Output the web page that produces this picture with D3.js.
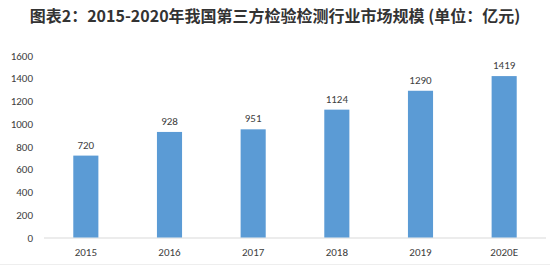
<!DOCTYPE html>
<html><head><meta charset="utf-8">
<script src="https://cdn.jsdelivr.net/npm/d3@7/dist/d3.min.js"></script>
<style>
html,body{margin:0;padding:0;background:#fff;}
svg{display:block;}
</style></head>
<body>
<svg id="c" width="550" height="271"></svg>
<script>
const categories = ["2015","2016","2017","2018","2019","2020E"];
const values = [720, 928, 951, 1124, 1290, 1419];
const yTicks = [0,200,400,600,800,1000,1200,1400,1600];
const titleText = "图表2：2015-2020年我国第三方检验检测行业市场规模 (单位：亿元)";

const svg = d3.select("#c");
const font = "'Noto Sans CJK SC','Microsoft YaHei',sans-serif";
const numFont = "Calibri,Carlito,'Liberation Sans',sans-serif";

svg.append("text")
  .attr("x", 275).attr("y", 22)
  .attr("text-anchor","middle")
  .attr("font-family", font)
  .attr("font-weight","bold")
  .attr("font-size", 16)
  .attr("fill","#333")
  .text(titleText);

const x = d3.scaleBand().domain(categories).range([44, 546]).paddingInner(0.7).paddingOuter(0.35);
const y = d3.scaleLinear().domain([0,1600]).range([237.5, 55.5]);

// axis baseline
svg.append("line")
  .attr("x1", 44).attr("x2", 546)
  .attr("y1", y(0)+0.5).attr("y2", y(0)+0.5)
  .attr("stroke","#d9d9d9").attr("stroke-width",1);

// y labels
const yAxis = d3.axisLeft(y).tickValues(yTicks).tickFormat(d3.format("d")).tickSize(0).tickPadding(0);
const gy = svg.append("g").attr("transform","translate(33,0)").call(yAxis);
gy.select(".domain").remove();
gy.selectAll("text").attr("font-family",numFont).attr("font-size",11).attr("fill","#404040");

// x labels
const xAxis = d3.axisBottom(x).tickSize(0).tickPadding(0);
const gx = svg.append("g").attr("transform","translate(0,248)").call(xAxis);
gx.select(".domain").remove();
gx.selectAll("text").attr("font-family",numFont).attr("font-size",11).attr("fill","#404040");

// bars
svg.selectAll("rect.bar").data(values).enter().append("rect")
  .attr("class","bar")
  .attr("x",(d,i)=>x(categories[i]))
  .attr("width",x.bandwidth())
  .attr("y",d=>y(d))
  .attr("height",d=>y(0)-y(d))
  .attr("fill","#5b9bd5");

// value labels
svg.selectAll("text.val").data(values).enter().append("text")
  .attr("class","val")
  .attr("x",(d,i)=>x(categories[i])+x.bandwidth()/2)
  .attr("y",d=>y(d)-7)
  .attr("text-anchor","middle")
  .attr("font-family",numFont)
  .attr("font-size",11).attr("fill","#404040")
  .text(d=>d);

// bottom faint line
svg.append("line").attr("x1",0).attr("x2",550).attr("y1",264.5).attr("y2",264.5)
  .attr("stroke","#eeeeee").attr("stroke-width",1);
</script>
</body></html>
